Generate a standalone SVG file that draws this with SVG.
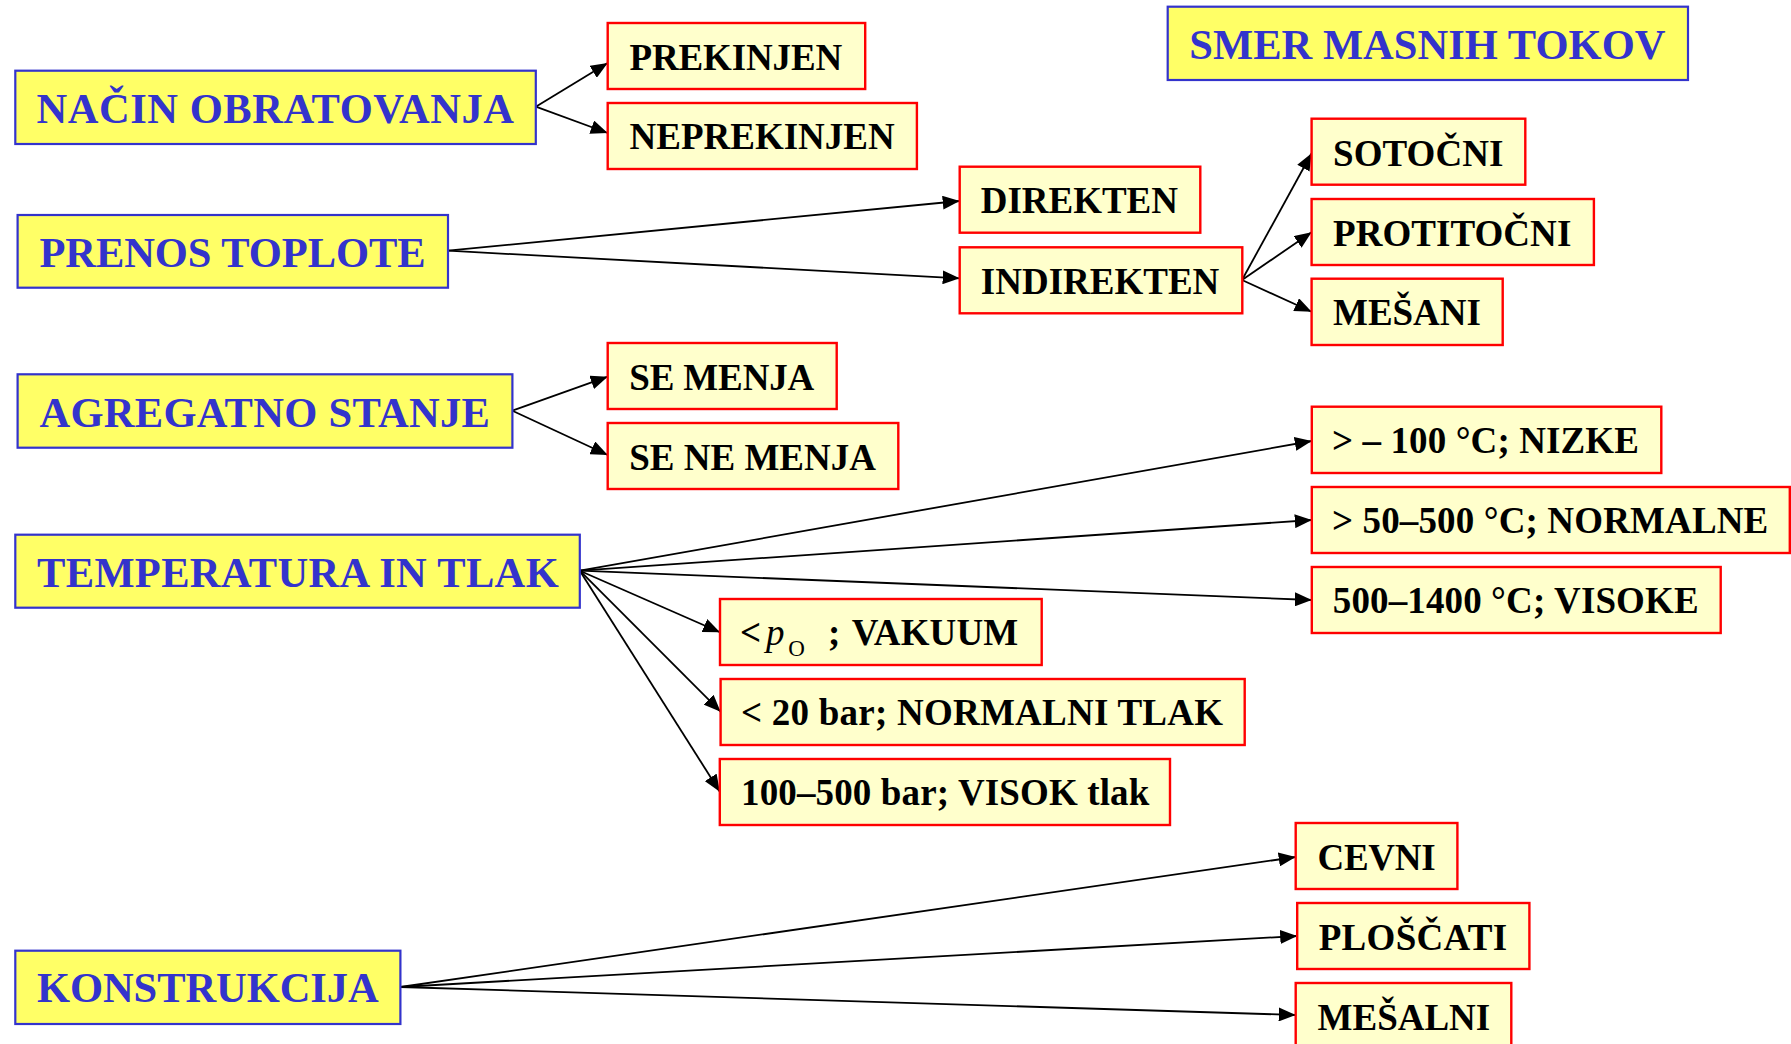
<svg xmlns="http://www.w3.org/2000/svg" width="1791" height="1044" viewBox="0 0 1791 1044">
<style>
.main rect{fill:#FFFF66;stroke:#3333CC;stroke-width:2.2}
.main text{font-family:"Liberation Serif","Times New Roman",serif;font-weight:bold;font-size:42.5px;fill:#3333CC}
.sub rect{fill:#FFFFCC;stroke:#FF0000;stroke-width:2.4}
.sub text{font-family:"Liberation Serif","Times New Roman",serif;font-weight:bold;font-size:37px;fill:#000}
#connectors line{stroke:#000;stroke-width:1.8;marker-end:url(#arrow)}
</style>
<defs>
<marker id="arrow" markerUnits="userSpaceOnUse" viewBox="0 0 17 14" refX="17" refY="7" markerWidth="17" markerHeight="14" orient="auto">
<path d="M0,0 L17,7 L0,14 z" fill="#000"/>
</marker>
</defs>
<rect width="1791" height="1044" fill="#fff"/>

<g id="connectors">
<line x1="535.8" y1="106.7" x2="607.7" y2="63"/>
<line x1="535.8" y1="106.7" x2="607.7" y2="133"/>
<line x1="448" y1="250.7" x2="959.7" y2="201"/>
<line x1="448" y1="250.7" x2="959.7" y2="278.3"/>
<line x1="1242" y1="280" x2="1311.6" y2="153.3"/>
<line x1="1242" y1="280" x2="1311.6" y2="232.3"/>
<line x1="1242" y1="280" x2="1311.6" y2="311.7"/>
<line x1="512.4" y1="410.7" x2="607.7" y2="376.7"/>
<line x1="512.4" y1="410.7" x2="607.7" y2="455"/>
<line x1="579.8" y1="570.7" x2="1311.8" y2="441"/>
<line x1="579.8" y1="570.7" x2="1311.8" y2="520"/>
<line x1="579.8" y1="570.7" x2="1311.8" y2="600"/>
<line x1="579.8" y1="570.7" x2="720" y2="632.3"/>
<line x1="579.8" y1="570.7" x2="720.6" y2="711.7"/>
<line x1="579.8" y1="570.7" x2="719.8" y2="791.7"/>
<line x1="400.4" y1="987" x2="1295.7" y2="857"/>
<line x1="400.4" y1="987" x2="1297.2" y2="936"/>
<line x1="400.4" y1="987" x2="1295.7" y2="1015"/>
</g>

<g id="nacin" class="main"><rect x="15.3" y="70.7" width="520.5" height="73.3"/><text x="36.4" y="123.3" textLength="477.6">NAČIN OBRATOVANJA</text></g>
<g id="prenos" class="main"><rect x="17.6" y="215" width="430.4" height="72.7"/><text x="39.4" y="266.7" textLength="386.2">PRENOS TOPLOTE</text></g>
<g id="agregatno" class="main"><rect x="17.6" y="374.3" width="494.8" height="73.4"/><text x="39.4" y="427.3" textLength="450.5">AGREGATNO STANJE</text></g>
<g id="temperatura" class="main"><rect x="15.3" y="534.7" width="564.5" height="73"/><text x="37" y="586.7" textLength="521.7">TEMPERATURA IN TLAK</text></g>
<g id="konstrukcija" class="main"><rect x="15.3" y="950.7" width="385.1" height="73.3"/><text x="37" y="1002" textLength="341.7">KONSTRUKCIJA</text></g>
<g id="smer" class="main"><rect x="1167.7" y="6.7" width="520.3" height="73.3"/><text x="1189.3" y="59.3" textLength="476.2">SMER MASNIH TOKOV</text></g>

<g id="prekinjen" class="sub"><rect x="607.7" y="23" width="257.5" height="66"/><text x="629.5" y="70" textLength="212.7">PREKINJEN</text></g>
<g id="neprekinjen" class="sub"><rect x="607.7" y="103" width="309.2" height="66"/><text x="629.5" y="149" textLength="265.2">NEPREKINJEN</text></g>
<g id="direkten" class="sub"><rect x="959.7" y="166.7" width="240.6" height="66"/><text x="980.8" y="213.3" textLength="197.1">DIREKTEN</text></g>
<g id="indirekten" class="sub"><rect x="959.7" y="247.3" width="282.6" height="66"/><text x="980.8" y="294" textLength="238.5">INDIREKTEN</text></g>
<g id="sotocni" class="sub"><rect x="1311.6" y="118.7" width="213.7" height="66"/><text x="1333" y="165.7" textLength="170.4">SOTOČNI</text></g>
<g id="protitocni" class="sub"><rect x="1311.6" y="199" width="282.3" height="66"/><text x="1333" y="246" textLength="238.3">PROTITOČNI</text></g>
<g id="mesani" class="sub"><rect x="1311.6" y="278.7" width="191.1" height="66.3"/><text x="1333" y="325" textLength="147.8">MEŠANI</text></g>
<g id="se-menja" class="sub"><rect x="607.7" y="343" width="229" height="66"/><text x="629.3" y="390" textLength="185">SE MENJA</text></g>
<g id="se-ne-menja" class="sub"><rect x="607.7" y="423" width="290.6" height="66"/><text x="629.3" y="470" textLength="246.7">SE NE MENJA</text></g>
<g id="nizke" class="sub"><rect x="1311.8" y="406.7" width="349.5" height="66.3"/><text x="1332" y="453.3" textLength="306.9">&gt; – 100 °C; NIZKE</text></g>
<g id="normalne" class="sub"><rect x="1311.8" y="487" width="478" height="66"/><text x="1332" y="533.3" textLength="436.3">&gt; 50–500 °C; NORMALNE</text></g>
<g id="visoke" class="sub"><rect x="1311.8" y="567" width="408.9" height="66"/><text x="1332.8" y="613.3" textLength="365.8">500–1400 °C; VISOKE</text></g>
<g id="vakuum" class="sub"><rect x="720" y="599" width="321.7" height="66"/><text y="645"><tspan x="740">&lt;</tspan><tspan x="766" font-style="italic" font-weight="normal">p</tspan><tspan x="788.3" y="656" font-size="23" font-weight="normal">O</tspan><tspan x="828" y="645">;</tspan><tspan x="851.7" textLength="166.6">VAKUUM</tspan></text></g>
<g id="normalni-tlak" class="sub"><rect x="720.6" y="679" width="524.1" height="66"/><text x="741" y="725" textLength="482">&lt; 20 bar; NORMALNI TLAK</text></g>
<g id="visok-tlak" class="sub"><rect x="719.8" y="759" width="450.2" height="66"/><text x="741" y="805" textLength="408.3">100–500 bar; VISOK tlak</text></g>
<g id="cevni" class="sub"><rect x="1295.7" y="823" width="161.7" height="66"/><text x="1317.6" y="870" textLength="118">CEVNI</text></g>
<g id="ploscati" class="sub"><rect x="1297.2" y="903" width="232.2" height="66"/><text x="1318.7" y="950" textLength="188.5">PLOŠČATI</text></g>
<g id="mesalni" class="sub"><rect x="1295.7" y="983" width="215.6" height="66"/><text x="1317.6" y="1030" textLength="172.6">MEŠALNI</text></g>
</svg>
